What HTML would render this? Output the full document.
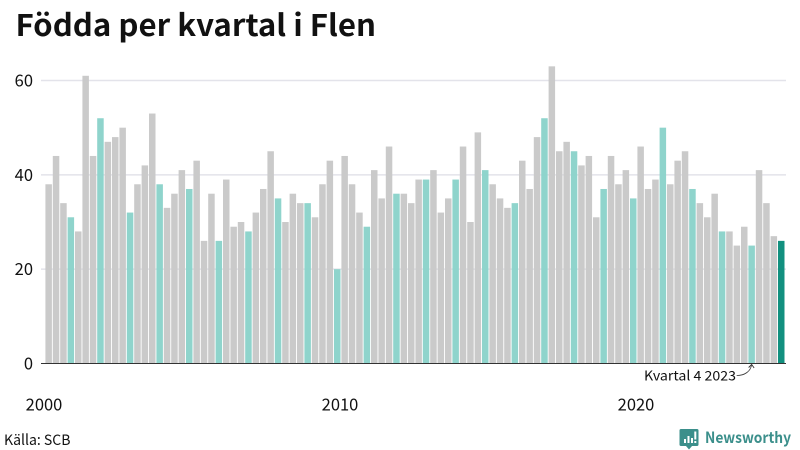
<!DOCTYPE html>
<html lang="sv">
<head>
<meta charset="utf-8">
<title>Födda per kvartal i Flen</title>
<style>
html,body{margin:0;padding:0;background:#fff;width:800px;height:450px;overflow:hidden}
svg{display:block}
text{font-family:"Noto Sans CJK JP","Liberation Sans",sans-serif;fill:#111}
</style>
</head>
<body>
<svg id="chart" width="800" height="450" viewBox="0 0 800 450" xmlns="http://www.w3.org/2000/svg">
  <rect width="800" height="450" fill="#fff"/>
  <text x="15.5" y="36" font-size="30" font-weight="700" textLength="360.500" lengthAdjust="spacingAndGlyphs">Födda per kvartal i Flen</text>
  <g id="grid"></g>
  <g id="bars"></g>
  <line x1="41" x2="786" y1="363.5" y2="363.5" stroke="#333" stroke-width="1"/>
  <g id="yticks"></g>
  <g id="xticks"></g>
  <text x="644" y="380.500" font-size="13.500" textLength="92" lengthAdjust="spacingAndGlyphs">Kvartal 4 2023</text>
  <path id="annotation-arrow" d="" fill="none" stroke="#333" stroke-width="0.8"/>
  <path id="annotation-head" d="" fill="none" stroke="#333" stroke-width="0.9"/>
  <text x="4" y="445" font-size="14.500" textLength="66.500" lengthAdjust="spacingAndGlyphs">Källa: SCB</text>
  <g>
    <path d="M681 429h16a1.500 1.500 0 0 1 1.500 1.500v14a1.500 1.500 0 0 1-1.500 1.500h-5l-3 3.500-3-3.500h-5a1.500 1.500 0 0 1-1.500-1.500v-14a1.500 1.500 0 0 1 1.500-1.500z" fill="#3b8f8b"/>
    <rect x="684" y="439" width="2" height="4" fill="#fff"/>
    <rect x="687.500" y="436" width="2" height="7" fill="#fff"/>
    <rect x="691" y="438" width="2" height="5" fill="#fff"/>
    <rect x="694.300" y="431.500" width="2" height="8" fill="#fff"/>
    <rect x="694.300" y="441" width="2" height="2" fill="#fff"/>
    <text x="705" y="443" font-size="15.500" font-weight="700" textLength="86" lengthAdjust="spacingAndGlyphs" style="fill:#3b8f8b">Newsworthy</text>
  </g>
</svg>
<script>
const quarterYears = [2000,2001,2002,2003,2004,2005,2006,2007,2008,2009,2010,2011,2012,2013,2014,2015,2016,2017,2018,2019,2020,2021,2022,2023,2024];
const births = [
  38,44,34,31,
  28,61,44,52,
  47,48,50,32,
  38,42,53,38,
  33,36,41,37,
  43,26,36,26,
  39,29,30,28,
  32,37,45,35,
  30,36,34,34,
  31,38,43,20,
  44,38,32,29,
  41,35,46,36,
  36,34,39,39,
  41,32,35,39,
  46,30,49,41,
  38,35,33,34,
  43,37,48,52,
  63,45,47,45,
  42,44,31,37,
  44,38,41,35,
  46,37,39,50,
  38,43,45,37,
  34,31,36,28,
  28,25,29,25,
  41,34,27,26
];
const yTicks = [0,20,40,60];
const xTickYears = [2000,2010,2020];
const annotatedYear = 2023;
const annotatedQuarter = 4;

const NS = 'http://www.w3.org/2000/svg';
const step = 7.4, barW = 6.5, left = 45.4;
function xScale(i){ return left + i * step; }
function yScale(v){ return 363.5 - v * (283 / 60); }
function make(tag, attrs){
  const el = document.createElementNS(NS, tag);
  for (const k in attrs) el.setAttribute(k, attrs[k]);
  return el;
}
const gridG = document.getElementById('grid');
const barsG = document.getElementById('bars');
const yG = document.getElementById('yticks');
const xG = document.getElementById('xticks');

yTicks.forEach(function(t){
  if (t > 0) {
    const ln = make('line', {x1:41, x2:786, y1:yScale(t), y2:yScale(t), stroke:'#e3e3ea', 'stroke-width':1.5});
    
    
    gridG.appendChild(ln);
  }
  const tx = make('text', {x:33, y:yScale(t) + 6, 'text-anchor':'end', 'font-size':16.5});
  
  
  tx.textContent = t;
  yG.appendChild(tx);
});

births.forEach(function(v, i){
  const isLast = i === births.length - 1;
  const isQ4 = i % 4 === 3;
  const r = make('rect', {x:xScale(i), y:yScale(v), width:barW, height:yScale(0) - yScale(v),
    fill: isLast ? '#12907f' : (isQ4 ? '#8ad2ca' : '#c8c8c8'), 'fill-opacity': isLast ? 1 : 0.96});
  
  
  barsG.appendChild(r);
});

xTickYears.forEach(function(y){
  const i = quarterYears.indexOf(y) * 4;
  const tx = make('text', {x:xScale(i) - 1.4, y:410.5, 'text-anchor':'middle', 'font-size':16.5});
  
  
  tx.textContent = y;
  xG.appendChild(tx);
});

const annI = quarterYears.indexOf(annotatedYear) * 4 + annotatedQuarter - 1;
const ax = xScale(annI) + barW / 2;
const ay = yScale(0) + 1;
document.getElementById('annotation-arrow').setAttribute('d',
  'M' + (ax - 15) + ' ' + (ay + 11) + 'C' + (ax - 7) + ' ' + (ay + 11) + ' ' + (ax - 1) + ' ' + (ay + 7) + ' ' + ax + ' ' + ay);
document.getElementById('annotation-head').setAttribute('d',
  'M' + (ax - 3) + ' ' + (ay + 3) + 'L' + ax + ' ' + ay + 'L' + (ax + 2.5) + ' ' + (ay + 3.5));
</script>
</body>
</html>
